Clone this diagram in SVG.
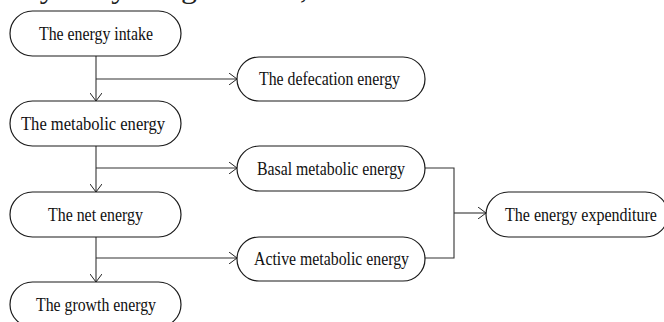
<svg xmlns="http://www.w3.org/2000/svg" width="664" height="322" viewBox="0 0 664 322">
<style>
.box{fill:#fff;stroke:#1a1a1a;stroke-width:1.2}
.t{font-family:"Liberation Serif","Times New Roman",serif;font-size:18px;fill:#111;text-anchor:middle}
.c{fill:none;stroke:#333;stroke-width:1.1}
</style>
<defs>
<marker id="arr" viewBox="0 0 8 12" refX="8" refY="6" markerWidth="8" markerHeight="12" markerUnits="userSpaceOnUse" orient="auto">
<path d="M0,0 L8,6 L0,12" fill="none" stroke="#222" stroke-width="1"/>
</marker>
</defs>
<rect width="664" height="322" fill="#fff"/>
<text x="8" y="-2" font-family="Liberation Serif, serif" font-size="30" fill="#222" textLength="300" lengthAdjust="spacingAndGlyphs">ally body weight curve,</text>
<g id="connectors">
<path class="c" d="M96,56 V101" marker-end="url(#arr)"/>
<path class="c" d="M96,79 H237" marker-end="url(#arr)"/>
<path class="c" d="M96,146 V192" marker-end="url(#arr)"/>
<path class="c" d="M96,168 H237" marker-end="url(#arr)"/>
<path class="c" d="M96,237 V282" marker-end="url(#arr)"/>
<path class="c" d="M96,258 H237" marker-end="url(#arr)"/>
<path class="c" d="M425,168 H454 V258 H425"/>
<path class="c" d="M454,213 H486" marker-end="url(#arr)"/>
</g>
<g id="intake"><rect class="box" x="10" y="11" width="171" height="45" rx="22.5"/><text class="t" x="96" y="40" textLength="114" lengthAdjust="spacingAndGlyphs">The energy intake</text></g>
<g id="metabolic"><rect class="box" x="10" y="101" width="171" height="45" rx="22.5"/><text class="t" x="93" y="130" textLength="144" lengthAdjust="spacingAndGlyphs">The metabolic energy</text></g>
<g id="net"><rect class="box" x="10" y="192" width="171" height="45" rx="22.5"/><text class="t" x="95.5" y="221" textLength="95" lengthAdjust="spacingAndGlyphs">The net energy</text></g>
<g id="growth"><rect class="box" x="10" y="282" width="171" height="45" rx="22.5"/><text class="t" x="96" y="311" textLength="120" lengthAdjust="spacingAndGlyphs">The growth energy</text></g>
<g id="defecation"><rect class="box" x="237" y="57" width="188" height="44" rx="22"/><text class="t" x="329.5" y="85" textLength="141" lengthAdjust="spacingAndGlyphs">The defecation energy</text></g>
<g id="basal"><rect class="box" x="237" y="146" width="188" height="45" rx="22.5"/><text class="t" x="331" y="175" textLength="148" lengthAdjust="spacingAndGlyphs">Basal metabolic energy</text></g>
<g id="active"><rect class="box" x="237" y="237" width="188" height="44" rx="22"/><text class="t" x="331.5" y="265" textLength="155" lengthAdjust="spacingAndGlyphs">Active metabolic energy</text></g>
<g id="expenditure"><rect class="box" x="486" y="192" width="182" height="45" rx="22.5"/><text class="t" x="581" y="221" textLength="152" lengthAdjust="spacingAndGlyphs">The energy expenditure</text></g>
</svg>
